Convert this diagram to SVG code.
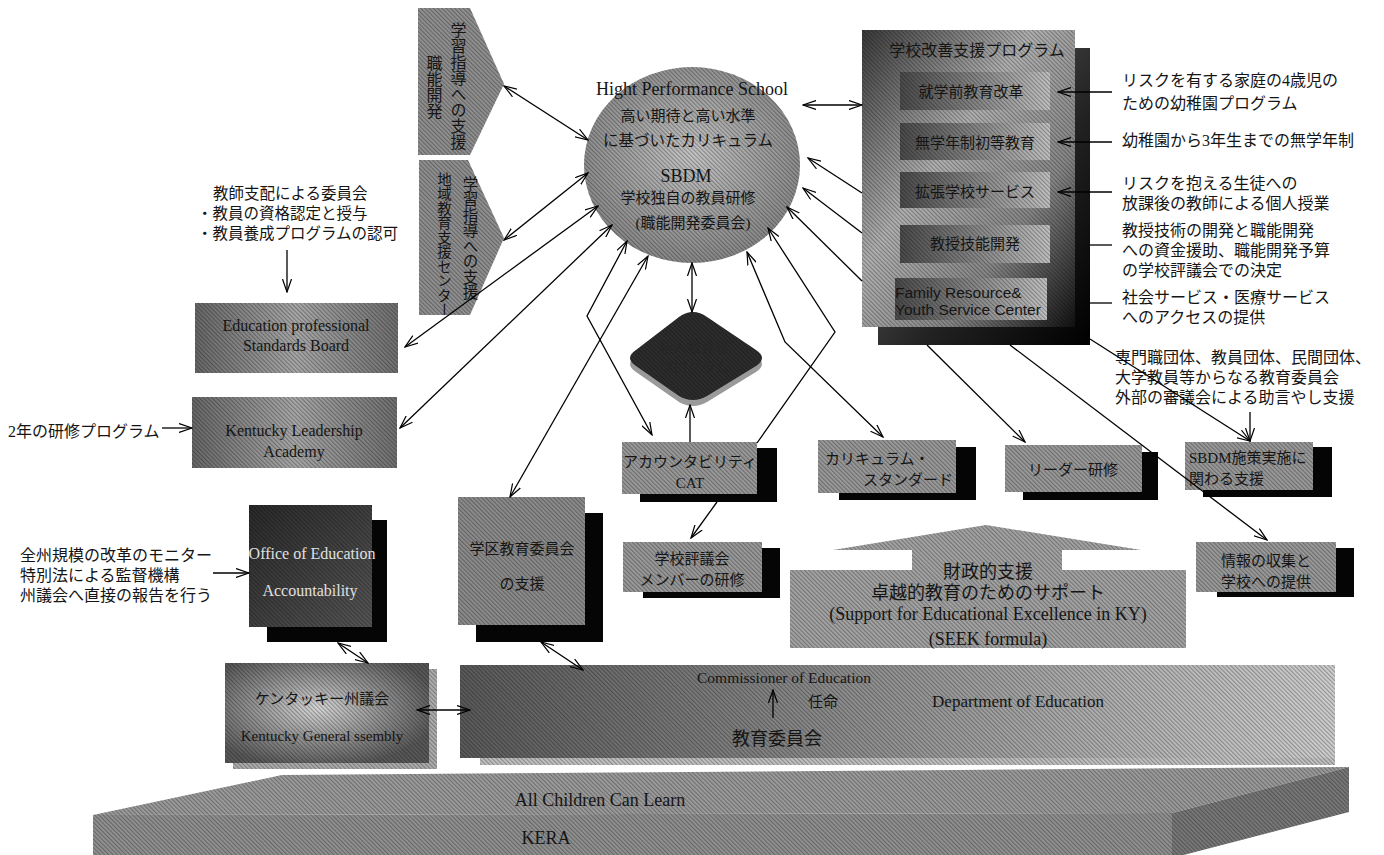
<svg xmlns="http://www.w3.org/2000/svg" width="1384" height="855" viewBox="0 0 1384 855">
<style>
.t{font-family:"Liberation Serif","Noto Sans CJK JP",serif;fill:#151515}
.s{font-family:"Liberation Sans","Noto Sans CJK JP",sans-serif;fill:#151515}
.v{writing-mode:vertical-rl}
.c{text-anchor:middle}
.w{fill:#e0e0e0}
.ln{stroke:#000;stroke-width:1.3;fill:none}
.b{marker-start:url(#ah);marker-end:url(#ah)}
.e{marker-end:url(#ah)}
.hat{fill:url(#h)}
.sh{fill:#050505}
.mid{fill:#9c9c9c}
</style>
<defs>
<pattern id="h" width="3" height="3" patternUnits="userSpaceOnUse" patternTransform="rotate(-45)"><rect x="0" y="0" width="1.2" height="3" fill="#000" fill-opacity="0.3"/></pattern>
<marker id="ah" viewBox="0 0 14 10" refX="13" refY="5" markerWidth="14" markerHeight="10" markerUnits="userSpaceOnUse" orient="auto-start-reverse"><path d="M0,0.5 L13,5 L0,9.5" fill="none" stroke="#000" stroke-width="1.2"/></marker>
<radialGradient id="gCirc" cx="0.5" cy="0.45" r="0.55"><stop offset="0" stop-color="#c8c8c8"/><stop offset="1" stop-color="#8a8a8a"/></radialGradient>
<linearGradient id="gProgA" x1="0" y1="0" x2="1" y2="1"><stop offset="0" stop-color="#3a3a3a"/><stop offset="0.4" stop-color="#b4b4b4"/><stop offset="0.7" stop-color="#8a8a8a"/><stop offset="1" stop-color="#111"/></linearGradient>
<linearGradient id="gProgB" x1="0" y1="0" x2="1" y2="1"><stop offset="0" stop-color="#777"/><stop offset="0.6" stop-color="#222"/><stop offset="1" stop-color="#000"/></linearGradient>
<linearGradient id="gIn" x1="0" y1="0" x2="1" y2="0"><stop offset="0" stop-color="#4c4c4c"/><stop offset="1" stop-color="#c4c4c4"/></linearGradient>
<linearGradient id="gBd" x1="0" y1="0" x2="1" y2="0"><stop offset="0" stop-color="#6a6a6a"/><stop offset="0.5" stop-color="#ababab"/><stop offset="1" stop-color="#727272"/></linearGradient>
<linearGradient id="gOff" x1="0" y1="0" x2="1" y2="1"><stop offset="0" stop-color="#2a2a2a"/><stop offset="1" stop-color="#585858"/></linearGradient>
<linearGradient id="gDept" x1="0" y1="0" x2="1" y2="0"><stop offset="0" stop-color="#5c5c5c"/><stop offset="1" stop-color="#d2d2d2"/></linearGradient>
<radialGradient id="gKy" cx="0.45" cy="0.45" r="0.6"><stop offset="0" stop-color="#dadada"/><stop offset="1" stop-color="#5a5a5a"/></radialGradient>
</defs>

<g id="pentagon-upper">
<polygon points="418,8 470,8 504,84 470,155 418,155" fill="#929292"/>
<polygon points="418,8 470,8 504,84 470,155 418,155" class="hat"/>
<text x="457" y="22" class="t v" font-size="16">学習指導への支援</text>
<text x="433" y="55" class="t v" font-size="16">職能開発</text>
</g>
<g id="pentagon-lower">
<polygon points="419,160 468,160 504,238 470,315 419,315" fill="#929292"/>
<polygon points="419,160 468,160 504,238 470,315 419,315" class="hat"/>
<text x="469" y="176" class="t v" font-size="15.5">学習指導への支援</text>
<text x="443" y="172" class="t v" font-size="14.5">地域教育支援センター</text>
</g>

<g id="hps-circle">
<ellipse cx="692" cy="165" rx="108" ry="98" fill="url(#gCirc)"/>
<ellipse cx="692" cy="165" rx="108" ry="98" class="hat"/>
<text x="692" y="95" class="t c" font-size="18">Hight Performance School</text>
<text x="688" y="121" class="t c" font-size="15">高い期待と高い水準</text>
<text x="688" y="146" class="t c" font-size="15.5">に基づいたカリキュラム</text>
<text x="686" y="182" class="t c" font-size="18">SBDM</text>
<text x="688" y="203" class="t c" font-size="15">学校独自の教員研修</text>
<text x="693" y="228" class="t c" font-size="15">(職能開発委員会)</text>
</g>

<g id="program-box">
<rect x="878" y="48" width="212" height="297" fill="url(#gProgB)"/>
<rect x="862" y="30" width="213" height="297" fill="url(#gProgA)"/>
<rect x="862" y="30" width="213" height="297" class="hat"/>
<text x="977" y="56" class="t c" font-size="16">学校改善支援プログラム</text>
<rect x="900" y="72" width="150" height="38" fill="url(#gIn)"/>
<rect x="900" y="72" width="150" height="38" class="hat"/>
<text x="971" y="97" class="t c" font-size="15">就学前教育改革</text>
<rect x="900" y="123" width="150" height="37" fill="url(#gIn)"/>
<rect x="900" y="123" width="150" height="37" class="hat"/>
<text x="975" y="148" class="t c" font-size="15">無学年制初等教育</text>
<rect x="900" y="172" width="150" height="36" fill="url(#gIn)"/>
<rect x="900" y="172" width="150" height="36" class="hat"/>
<text x="975" y="197" class="t c" font-size="15">拡張学校サービス</text>
<rect x="900" y="225" width="150" height="38" fill="url(#gIn)"/>
<rect x="900" y="225" width="150" height="38" class="hat"/>
<text x="975" y="249" class="t c" font-size="15">教授技能開発</text>
<rect x="895" y="278" width="152" height="42" fill="url(#gIn)"/>
<rect x="895" y="278" width="152" height="42" class="hat"/>
<text x="895" y="298" class="s" font-size="15.5">Family Resource&amp;</text>
<text x="895" y="315" class="s" font-size="15.5">Youth Service Center</text>
</g>

<g id="right-notes" class="t" font-size="16">
<text x="1122" y="86">リスクを有する家庭の4歳児の</text>
<text x="1122" y="109">ための幼稚園プログラム</text>
<text x="1122" y="146">幼稚園から3年生までの無学年制</text>
<text x="1122" y="189">リスクを抱える生徒への</text>
<text x="1122" y="209">放課後の教師による個人授業</text>
<text x="1122" y="236">教授技術の開発と職能開発</text>
<text x="1122" y="256">への資金援助、職能開発予算</text>
<text x="1122" y="276">の学校評議会での決定</text>
<text x="1122" y="303">社会サービス・医療サービス</text>
<text x="1122" y="323">へのアクセスの提供</text>
<text x="1115" y="363">専門職団体、教員団体、民間団体、</text>
<text x="1115" y="383">大学教員等からなる教育委員会</text>
<text x="1115" y="403">外部の審議会による助言やし支援</text>
</g>

<g id="epsb-note" class="t" font-size="15.5">
<text x="213" y="199">教師支配による委員会</text>
<text x="197" y="219">・教員の資格認定と授与</text>
<text x="197" y="239">・教員養成プログラムの認可</text>
</g>
<g id="epsb">
<rect x="195" y="303" width="203" height="70" fill="url(#gBd)"/>
<rect x="195" y="303" width="203" height="70" class="hat"/>
<text x="296" y="331" class="t c" font-size="16">Education professional</text>
<text x="296" y="351" class="t c" font-size="16">Standards Board</text>
</g>
<g id="kla">
<rect x="192" y="397" width="205" height="71" fill="url(#gBd)"/>
<rect x="192" y="397" width="205" height="71" class="hat"/>
<text x="294" y="436" class="t c" font-size="16">Kentucky Leadership</text>
<text x="294" y="457" class="t c" font-size="16">Academy</text>
</g>
<text id="kla-note" x="8" y="437" class="t" font-size="16">2年の研修プログラム</text>

<g id="diamond">
<path d="M693,318 Q700,318 707,323 L756,356 Q768,364 756,372 L707,402 Q693,410 679,402 L636,372 Q624,364 636,356 L679,323 Q686,318 693,318 Z" fill="#9a9a9a"/>
<path d="M693,312 Q700,312 707,317 L756,350 Q768,358 756,366 L707,396 Q693,404 679,396 L636,366 Q624,358 636,350 L679,317 Q686,312 693,312 Z" fill="#2e2e2e"/>
<path d="M693,312 Q700,312 707,317 L756,350 Q768,358 756,366 L707,396 Q693,404 679,396 L636,366 Q624,358 636,350 L679,317 Q686,312 693,312 Z" class="hat"/>
<text x="694" y="352" class="t c" font-size="14" style="fill:#262626">新人教育者</text>
<text x="694" y="372" class="t c" font-size="14" style="fill:#262626">プログラム</text>
</g>

<g id="accountability">
<rect x="640" y="448" width="137" height="54" class="sh"/>
<rect x="622" y="442" width="135" height="52" class="mid"/>
<rect x="622" y="442" width="135" height="52" class="hat"/>
<text x="690" y="467" class="t c" font-size="15">アカウンタビリティ</text>
<text x="690" y="488" class="t c" font-size="15">CAT</text>
</g>
<g id="curriculum">
<rect x="839" y="447" width="137" height="53" class="sh"/>
<rect x="818" y="440" width="138" height="53" class="mid"/>
<rect x="818" y="440" width="138" height="53" class="hat"/>
<text x="825" y="464" class="t" font-size="15">カリキュラム・</text>
<text x="863" y="485" class="t" font-size="15">スタンダード</text>
</g>
<g id="leader">
<rect x="1023" y="452" width="135" height="48" class="sh"/>
<rect x="1005" y="445" width="137" height="47" class="mid"/>
<rect x="1005" y="445" width="137" height="47" class="hat"/>
<text x="1073" y="475" class="t c" font-size="15">リーダー研修</text>
</g>
<g id="sbdm-support">
<rect x="1203" y="447" width="129" height="50" class="sh"/>
<rect x="1185" y="442" width="128" height="48" class="mid"/>
<rect x="1185" y="442" width="128" height="48" class="hat"/>
<text x="1189" y="463" class="t" font-size="15">SBDM施策実施に</text>
<text x="1189" y="484" class="t" font-size="15">関わる支援</text>
</g>
<g id="council">
<rect x="643" y="548" width="137" height="50" class="sh"/>
<rect x="623" y="542" width="139" height="50" class="mid"/>
<rect x="623" y="542" width="139" height="50" class="hat"/>
<text x="692" y="564" class="t c" font-size="15">学校評議会</text>
<text x="692" y="585" class="t c" font-size="15">メンバーの研修</text>
</g>
<g id="info">
<rect x="1217" y="548" width="137" height="49" class="sh"/>
<rect x="1196" y="542" width="140" height="50" class="mid"/>
<rect x="1196" y="542" width="140" height="50" class="hat"/>
<text x="1266" y="566" class="t c" font-size="15">情報の収集と</text>
<text x="1266" y="587" class="t c" font-size="15">学校への提供</text>
</g>

<g id="seek">
<polygon points="790,570 912,570 912,550 833,550 986,525 1141,550 1062,550 1062,570 1186,570 1186,648 790,648" fill="#a6a6a6"/>
<polygon points="790,570 912,570 912,550 833,550 986,525 1141,550 1062,550 1062,570 1186,570 1186,648 790,648" class="hat"/>
<text x="988" y="578" class="t c" font-size="18">財政的支援</text>
<text x="988" y="599" class="t c" font-size="18">卓越的教育のためのサポート</text>
<text x="988" y="620" class="t c" font-size="18">(Support for Educational Excellence in KY)</text>
<text x="988" y="645" class="t c" font-size="18">(SEEK formula)</text>
</g>

<text id="oea-note-1" x="20" y="561" class="t" font-size="16">全州規模の改革のモニター</text>
<text id="oea-note-2" x="20" y="581" class="t" font-size="16">特別法による監督機構</text>
<text id="oea-note-3" x="20" y="601" class="t" font-size="16">州議会へ直接の報告を行う</text>
<g id="oea">
<rect x="267" y="520" width="120" height="122" class="sh"/>
<rect x="249" y="505" width="123" height="122" fill="url(#gOff)"/>
<rect x="249" y="505" width="123" height="122" class="hat"/>
<text x="312" y="559" class="t c w" font-size="16">Office of Education</text>
<text x="310" y="596" class="t c w" font-size="16">Accountability</text>
</g>
<g id="district">
<rect x="476" y="513" width="127" height="129" class="sh"/>
<rect x="458" y="497" width="127" height="128" fill="#8e8e8e"/>
<rect x="458" y="497" width="127" height="128" class="hat"/>
<text x="522" y="554" class="t c" font-size="15">学区教育委員会</text>
<text x="522" y="589" class="t c" font-size="15">の支援</text>
</g>
<g id="assembly">
<rect x="233" y="669" width="204" height="100" fill="#b0b0b0"/>
<rect x="233" y="669" width="204" height="100" class="hat"/>
<rect x="225" y="663" width="204" height="100" fill="url(#gKy)"/>
<rect x="225" y="663" width="204" height="100" class="hat"/>
<text x="322" y="704" class="t c" font-size="15">ケンタッキー州議会</text>
<text x="322" y="741" class="t c" font-size="15">Kentucky General ssembly</text>
</g>
<g id="department">
<rect x="480" y="672" width="855" height="93" fill="#c4c4c4"/>
<rect x="480" y="672" width="855" height="93" class="hat"/>
<rect x="460" y="665" width="875" height="93" fill="url(#gDept)"/>
<rect x="460" y="665" width="875" height="93" class="hat"/>
<text x="784" y="683" class="t c" font-size="15.5">Commissioner of Education</text>
<text x="808" y="707" class="t" font-size="15">任命</text>
<text x="1018" y="707" class="t c" font-size="17">Department of Education</text>
<text x="777" y="745" class="t c" font-size="18">教育委員会</text>
</g>
<g id="kera">
<polygon points="93,815 282,775 1349,767 1172,813" fill="#9e9e9e"/>
<polygon points="93,815 282,775 1349,767 1172,813" class="hat"/>
<polygon points="93,815 1172,813 1172,855 93,855" fill="#939393"/>
<polygon points="93,815 1172,813 1172,855 93,855" class="hat"/>
<polygon points="1172,813 1349,767 1349,812 1172,858" fill="#7a7a7a"/>
<polygon points="1172,813 1349,767 1349,812 1172,858" class="hat"/>
<text x="600" y="806" class="t c" font-size="18">All Children Can Learn</text>
<text x="546" y="844" class="t c" font-size="18">KERA</text>
</g>

<g id="connectors" class="ln">
<path class="b" d="M504,86 L588,140"/>
<path class="b" d="M504,240 L588,173"/>
<path class="b" d="M803,105 L862,105"/>
<path class="e" d="M1112,92 L1058,92"/>
<path class="e" d="M1112,142 L1058,142"/>
<path class="e" d="M1112,192 L1058,192"/>
<path d="M1112,245 L1090,245"/>
<path d="M1112,303 L1090,303"/>
<path class="e" d="M287,250 L287,292"/>
<path class="e" d="M162,428 L192,428"/>
<path class="b" d="M598,206 L405,347"/>
<path class="b" d="M612,225 L400,428"/>
<path class="b" d="M648,256 L510,497"/>
<path class="b" d="M627,241 L587,316 L652,435"/>
<path class="b" d="M692,263 L692,312"/>
<path class="e" d="M690,442 L690,405"/>
<path class="b" d="M747,252 L785,342 L883,437"/>
<path class="e" d="M757,443 L835,332 L768,228"/>
<path marker-start="url(#ah)" d="M787,207 L862,281"/>
<path marker-end="url(#ah)" d="M927,345 L1025,442"/>
<path marker-start="url(#ah)" d="M803,188 L862,233"/>
<path marker-end="url(#ah)" d="M1010,345 L1267,540"/>
<path marker-start="url(#ah)" d="M808,158 L862,193"/>
<path marker-end="url(#ah)" d="M1090,339 L1250,441"/>
<path class="e" d="M1250,412 L1250,441"/>
<path class="e" d="M717,502 L691,538"/>
<path class="b" d="M338,643 L368,663"/>
<path class="b" d="M417,710 L470,710"/>
<path class="b" d="M541,642 L583,670"/>
<path class="e" d="M213,573 L249,573"/>
<path class="e" d="M773,718 L773,690"/>
</g>
</svg>
